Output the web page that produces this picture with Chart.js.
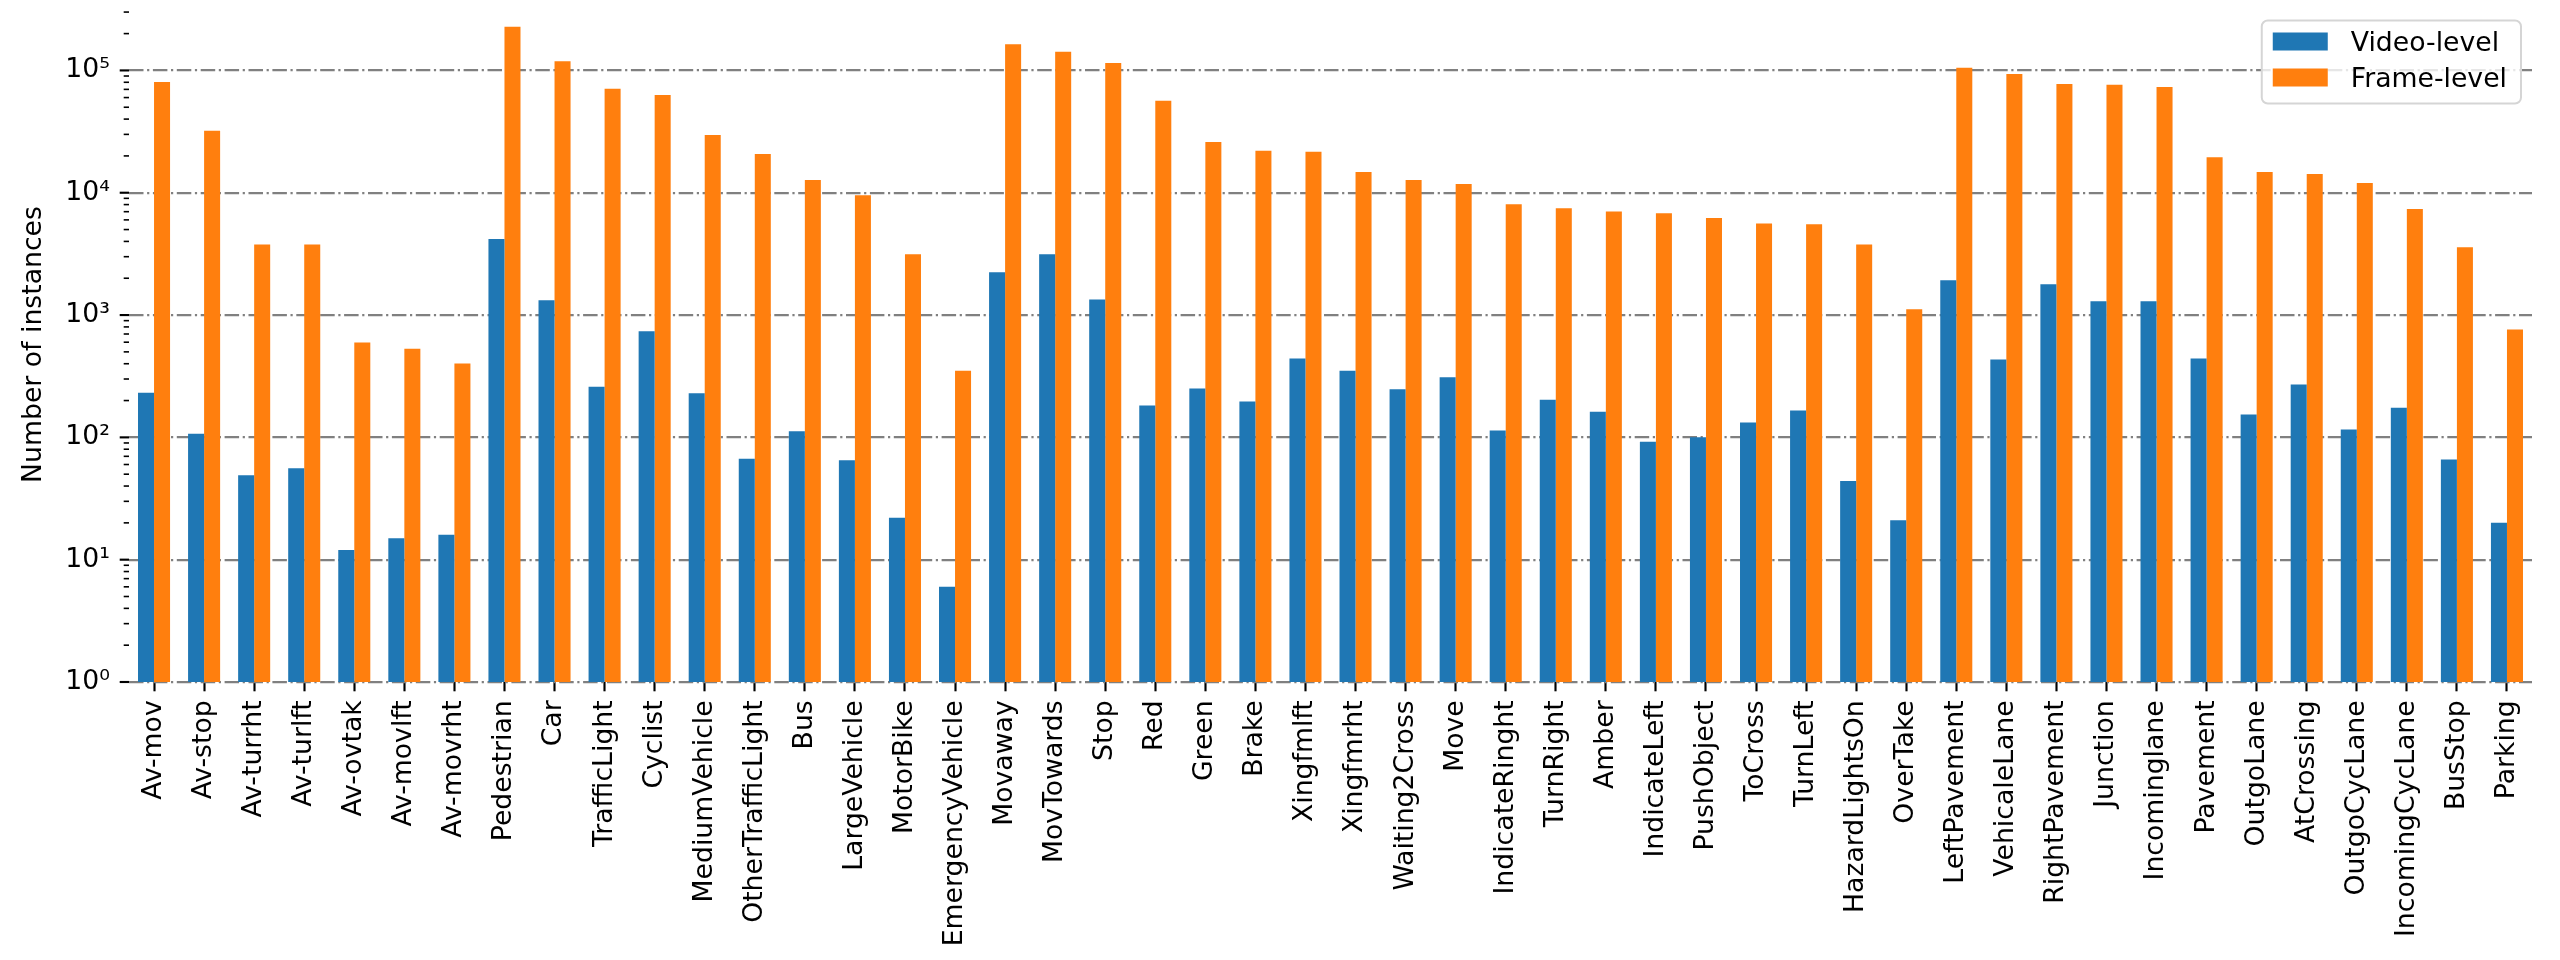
<!DOCTYPE html>
<html>
<head>
<meta charset="utf-8">
<script src="https://cdn.jsdelivr.net/npm/chart.js@4.4.0/dist/chart.umd.min.js"></script>
<style>
  html, body { margin: 0; padding: 0; background: #fff; }
  #wrap { width: 2560px; height: 960px; }
</style>
</head>
<body>
<div id="wrap"><canvas id="ctx" width="2560" height="960"></canvas></div>
<script>
const categories = ['Av-mov', 'Av-stop', 'Av-turrht', 'Av-turlft', 'Av-ovtak', 'Av-movlft', 'Av-movrht',
  'Pedestrian', 'Car', 'TrafficLight', 'Cyclist', 'MediumVehicle', 'OtherTrafficLight', 'Bus',
  'LargeVehicle', 'MotorBike', 'EmergencyVehicle', 'Movaway', 'MovTowards', 'Stop', 'Red', 'Green',
  'Brake', 'Xingfmlft', 'Xingfmrht', 'Waiting2Cross', 'Move', 'IndicateRinght', 'TurnRight', 'Amber',
  'IndicateLeft', 'PushObject', 'ToCross', 'TurnLeft', 'HazardLightsOn', 'OverTake', 'LeftPavement',
  'VehicaleLane', 'RightPavement', 'Junction', 'Incominglane', 'Pavement', 'OutgoLane', 'AtCrossing',
  'OutgoCycLane', 'IncomingCycLane', 'BusStop', 'Parking'];

const videoLevel = [232, 107, 49, 56, 12, 15, 16,
  4180, 1320, 259, 737, 229, 67, 112,
  65, 22, 6, 2240, 3140, 1340, 182, 251,
  196, 441, 351, 247, 310, 114, 203, 162,
  92, 100, 132, 166, 44, 21, 1927,
  434, 1786, 1297, 1297, 441, 154, 271,
  116, 175, 66, 20];

const frameLevel = [80300, 32100, 3780, 3780, 597, 531, 402,
  228000, 119000, 70800, 62900, 29700, 20700, 12700,
  9540, 3140, 351, 164000, 142000, 115000, 56400, 26000,
  22000, 21600, 14800, 12700, 11800, 8060, 7470, 7040,
  6810, 6210, 5610, 5520, 3780, 1114, 105000,
  93500, 77600, 76400, 73200, 19500, 14800, 14200,
  12000, 7350, 3590, 762];

const seriesNames = ['Video-level', 'Frame-level'];
const yTickLabels = ['10⁰', '10¹', '10²', '10³', '10⁴', '10⁵'];

const FONT = 'DejaVu Sans';
const FS = 26.7;

function isDecade(v) {
  const e = Math.log10(v);
  return Math.abs(e - Math.round(e)) < 1e-9;
}

// major ticks at decades, minor ticks at 2..9 x 10^n
const yTickMarks = {
  id: 'yTickMarks',
  afterDraw(chart) {
    const y = chart.scales.y;
    const c = chart.ctx;
    const left = chart.chartArea.left;
    c.save();
    c.strokeStyle = '#000';
    for (let e = 0; Math.pow(10, e) <= y.max; e++) {
      for (let s = 1; s <= 9; s++) {
        const v = s * Math.pow(10, e);
        if (v > y.max) break;
        const py = y.getPixelForValue(v);
        const major = s === 1;
        c.lineWidth = major ? 2.13 : 1.6;
        c.beginPath();
        c.moveTo(left - (major ? 9.3 : 5.3), py);
        c.lineTo(left, py);
        c.stroke();
      }
    }
    c.restore();
  }
};

// legend box in the upper right corner
const boxLegend = {
  id: 'boxLegend',
  afterDraw(chart) {
    const c = chart.ctx;
    const area = chart.chartArea;
    c.save();
    c.font = FS + 'px "' + FONT + '"';
    const ds = chart.data.datasets;
    const textW = Math.max(...ds.map(d => c.measureText(d.label).width));
    const w = 89 + textW + 14;
    const h = 83;
    const x0 = area.right - 11 - w;
    const y0 = area.top + 13.5;
    c.beginPath();
    c.roundRect(x0, y0, w, h, 6);
    c.fillStyle = 'rgba(255,255,255,0.8)';
    c.fill();
    c.lineWidth = 2;
    c.strokeStyle = '#d5d5d5';
    c.stroke();
    ds.forEach((d, i) => {
      const cy = y0 + 21 + i * 36;
      c.fillStyle = d.backgroundColor;
      c.fillRect(x0 + 11, cy - 9, 55, 18);
      c.fillStyle = '#000';
      c.textBaseline = 'alphabetic';
      c.fillText(d.label, x0 + 89, cy + 9.8);
    });
    c.restore();
  }
};

Chart.defaults.font.family = FONT;
Chart.defaults.font.size = FS;
Chart.defaults.color = '#000';

const chart = new Chart(document.getElementById('ctx'), {
  type: 'bar',
  data: {
    labels: categories,
    datasets: [
      { label: seriesNames[0], data: videoLevel, backgroundColor: '#1f77b4' },
      { label: seriesNames[1], data: frameLevel, backgroundColor: '#ff7f0e' }
    ]
  },
  options: {
    responsive: false,
    animation: false,
    devicePixelRatio: 1,
    categoryPercentage: 0.64,
    barPercentage: 1.0,
    layout: { padding: { top: 7, right: 28, left: 0, bottom: 0 } },
    plugins: {
      legend: { display: false },
      tooltip: { enabled: false }
    },
    scales: {
      x: {
        offset: true,
        border: { display: false },
        grid: {
          display: true,
          offset: false,
          drawOnChartArea: false,
          drawTicks: true,
          tickLength: 9.3,
          tickWidth: 2.13,
          tickColor: '#000'
        },
        ticks: {
          autoSkip: false,
          maxRotation: 90,
          minRotation: 90,
          padding: 9,
          color: '#000',
          font: { size: FS }
        },
        afterFit: (s) => { s.height = 278; }
      },
      y: {
        type: 'logarithmic',
        min: 1,
        max: 330000,
        z: 1,
        border: { display: false, dash: [14.5, 3.6, 2.2, 3.6] },
        grid: {
          drawTicks: false,
          lineWidth: 2.2,
          color: (ctx) => (ctx.tick && isDecade(ctx.tick.value)) ? '#808080' : 'rgba(0,0,0,0)'
        },
        ticks: {
          autoSkip: false,
          padding: 19,
          color: '#000',
          font: { size: FS },
          callback: (value) => {
            if (!isDecade(value)) return null;
            const r = Math.round(Math.log10(value));
            return yTickLabels[r] !== undefined ? yTickLabels[r] : null;
          }
        },
        title: {
          display: true,
          text: 'Number of instances',
          color: '#000',
          font: { size: FS },
          padding: { top: 18, bottom: 0 }
        },
        afterFit: (s) => {
          s.width = 129;
          s.paddingTop = 0;
          s.paddingBottom = 0;
        }
      }
    }
  },
  plugins: [yTickMarks, boxLegend]
});
</script>
</body>
</html>
